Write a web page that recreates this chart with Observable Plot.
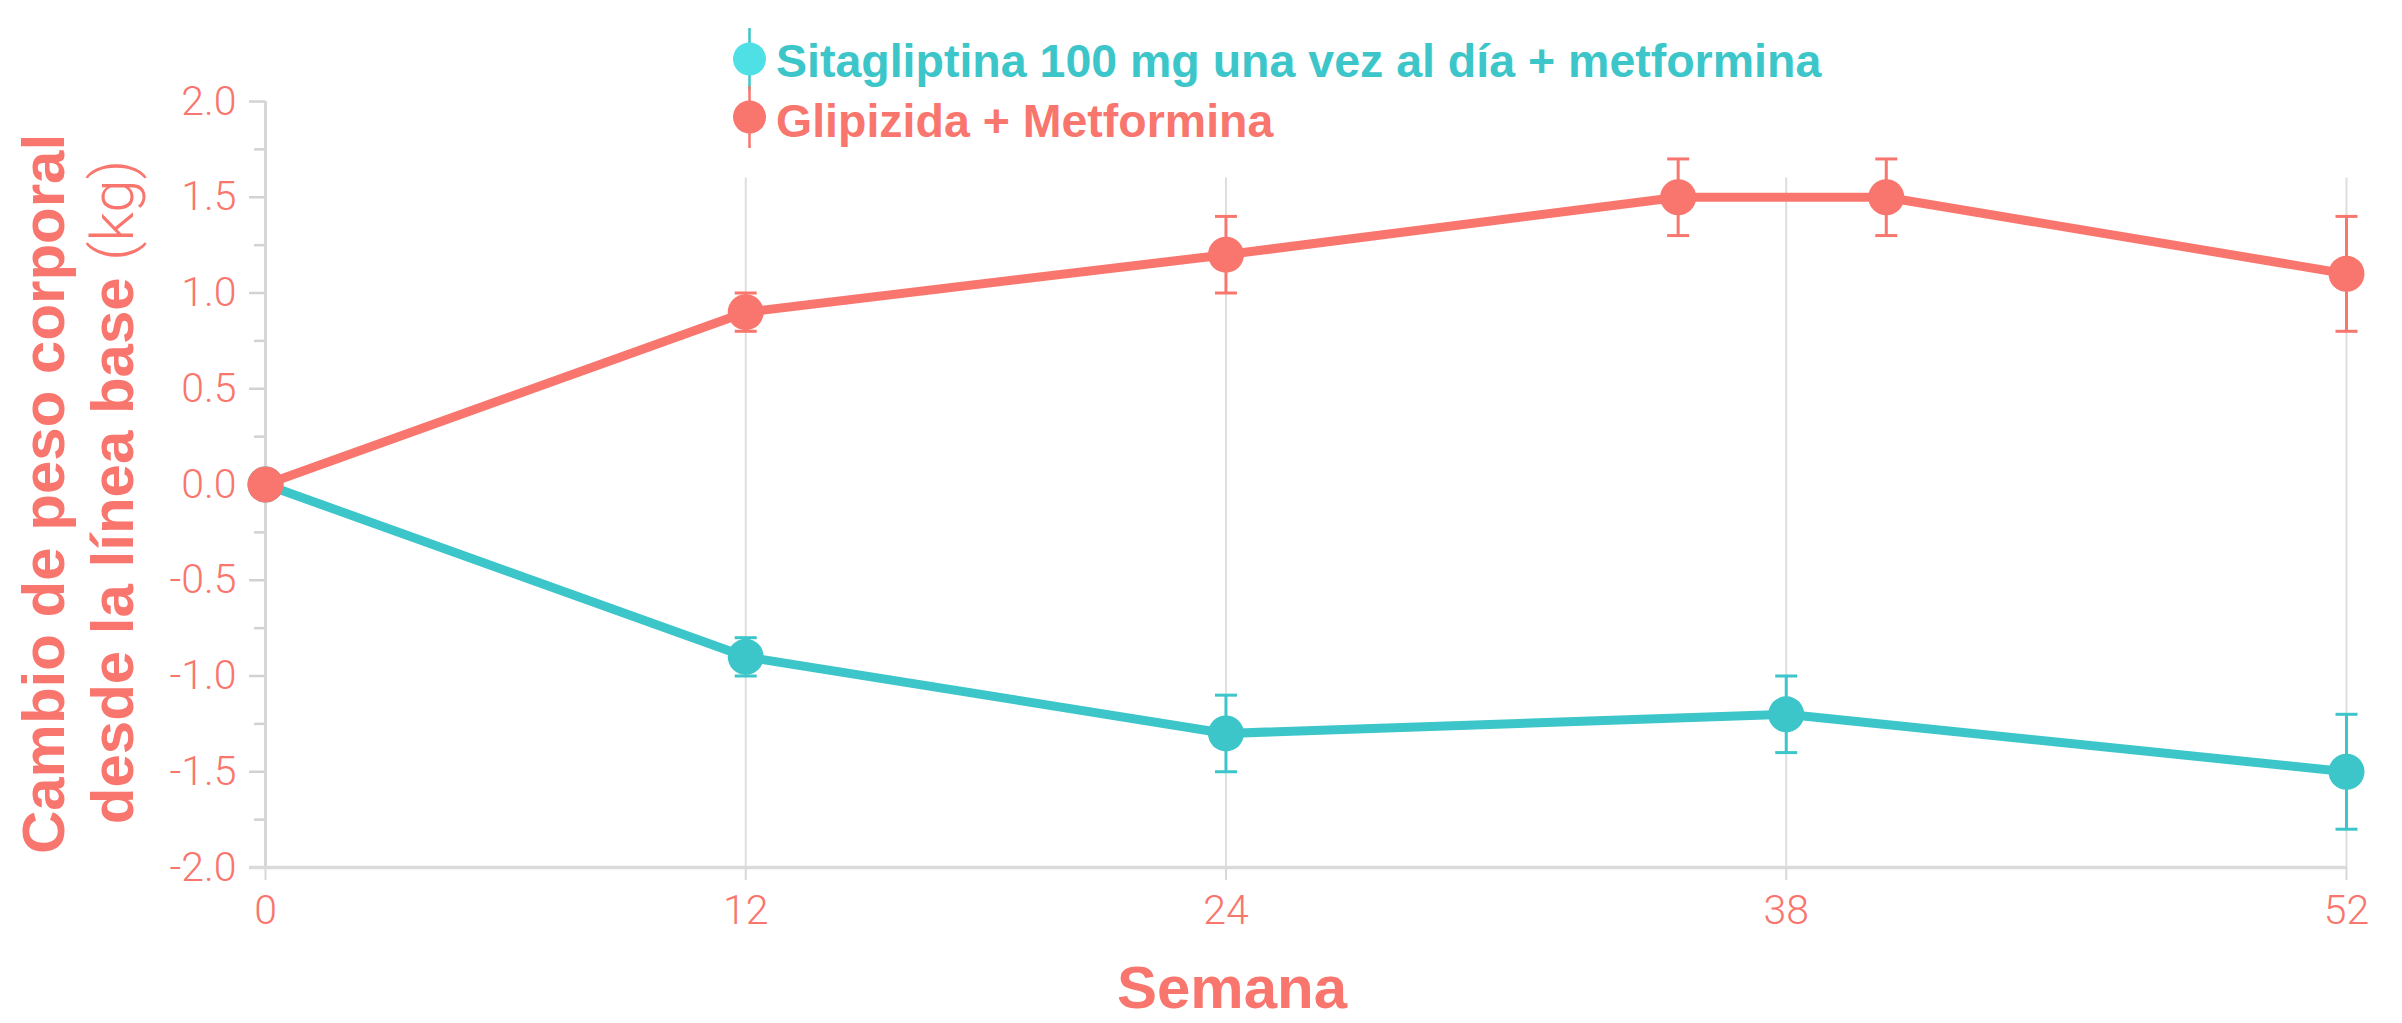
<!DOCTYPE html>
<html><head><meta charset="utf-8">
<script src="https://cdn.jsdelivr.net/npm/d3@7"></script>
<script src="https://cdn.jsdelivr.net/npm/@observablehq/plot@0.6"></script>
<style>
html,body{margin:0;padding:0;background:#fff;}
#wrap{position:relative;width:2402px;height:1023px;overflow:hidden;}
</style></head><body><div id="wrap"></div>
<script>
// ---- data ----
const seriesNames = ["Sitagliptina 100 mg una vez al día + metformina", "Glipizida + Metformina"];
const seriesColors = ["#3CC6C9", "#F8766D"];
const legendSwatchColors = ["#4FE0E6", "#F8766D"];
const sitaWeeks = [0, 12, 24, 38, 52];
const sitaChange = [0, -0.9, -1.3, -1.2, -1.5];
const sitaErr = [0, 0.1, 0.2, 0.2, 0.3];
const glipWeeks = [0, 12, 24, 35.3, 40.5, 52];
const glipChange = [0, 0.9, 1.2, 1.5, 1.5, 1.1];
const glipErr = [0, 0.1, 0.2, 0.2, 0.2, 0.3];
const xTicks = [0, 12, 24, 38, 52];
const yTicks = [-2, -1.5, -1, -0.5, 0, 0.5, 1, 1.5, 2];
const yMinorTicks = [-1.75, -1.25, -0.75, -0.25, 0.25, 0.75, 1.25, 1.75];
const gridTop = 1.6;
const yTitleBold = ["Cambio de peso corporal", "desde la línea base "];
const yTitleUnit = "(kg)";
const xTitle = "Semana";

// ---- build table ----
function build(weeks, vals, errs, s) {
  return weeks.map((w, i) => ({series: s, week: w, value: vals[i], lo: vals[i] - errs[i], hi: vals[i] + errs[i], err: errs[i]}));
}
const sita = build(sitaWeeks, sitaChange, sitaErr, seriesNames[0]);
const glip = build(glipWeeks, glipChange, glipErr, seriesNames[1]);
const withErr = d => d.filter(r => r.err > 0);

const capSymbol = {draw(ctx) { ctx.moveTo(-11, 0); ctx.lineTo(11, 0); }};
const tickFont = "Roboto, 'Liberation Sans', sans-serif";
const titleFont = "'Liberation Sans', Arial, Helvetica, sans-serif";
const red = seriesColors[1];

function seriesMarks(data, color) {
  return [
    Plot.ruleX(withErr(data), {x: "week", y1: "lo", y2: "hi", stroke: color, strokeWidth: 3}),
    Plot.dot(withErr(data), {x: "week", y: "hi", symbol: capSymbol, stroke: color, strokeWidth: 3, fill: "none", r: 6}),
    Plot.dot(withErr(data), {x: "week", y: "lo", symbol: capSymbol, stroke: color, strokeWidth: 3, fill: "none", r: 6}),
    Plot.line(data, {x: "week", y: "value", stroke: color, strokeWidth: 9, strokeLinejoin: "round"}),
    Plot.dot(data, {x: "week", y: "value", r: 18, fill: color, stroke: "none"})
  ];
}

const chart = Plot.plot({
  width: 2402, height: 1023,
  marginLeft: 265, marginRight: 56, marginTop: 101, marginBottom: 156,
  style: {background: "white", fontFamily: tickFont, overflow: "visible"},
  x: {domain: [0, 52]},
  y: {domain: [-2, 2]},
  marks: [
    Plot.ruleX(xTicks.slice(1), {y1: -2, y2: gridTop, stroke: "#dedede", strokeWidth: 2}),
    Plot.axisY(yTicks, {tickSize: 16, tickPadding: 13, tickFormat: d => d.toFixed(1), stroke: "#d2d2d2", strokeWidth: 2.5, fill: red, fontSize: 41, fontWeight: 300, label: null}),
    Plot.axisY(yMinorTicks, {tickSize: 11, tickFormat: () => "", stroke: "#d2d2d2", strokeWidth: 2.5, label: null}),
    Plot.axisX(xTicks, {tickSize: 13, tickPadding: 14, stroke: "#d8d8d8", strokeWidth: 2, fill: red, fontSize: 41, fontWeight: 300, label: null}),
    Plot.ruleX([0], {y1: -2, y2: 2, stroke: "#d6d6d6", strokeWidth: 3}),
    Plot.ruleY([-2], {x1: -0.4, x2: 52, stroke: "#dadada", strokeWidth: 3.5}),
    ...seriesMarks(sita, seriesColors[0]),
    ...seriesMarks(glip, seriesColors[1])
  ]
});

document.getElementById("wrap").appendChild(chart);
const svg = d3.select(chart);

// y title (two lines, rotated)
const yt = svg.append("g").attr("fill", red).attr("font-family", titleFont).attr("font-size", 60).attr("font-weight", "bold").attr("text-anchor", "middle");
yt.append("text").attr("transform", "translate(64,494) rotate(-90)").text(yTitleBold[0]);
const l2 = yt.append("text").attr("transform", "translate(133,492) rotate(-90)");
l2.append("tspan").text(yTitleBold[1]);
l2.append("tspan").attr("font-weight", 300).attr("font-family", tickFont).text(yTitleUnit);

// x title
svg.append("text").attr("x", 1232).attr("y", 1008).attr("text-anchor", "middle").attr("fill", red)
  .attr("font-family", titleFont).attr("font-size", 60).attr("font-weight", "bold").text(xTitle);

// legend
const lg = svg.append("g").attr("font-family", titleFont).attr("font-size", 46.5).attr("font-weight", "bold").attr("text-anchor", "start");
seriesNames.forEach((name, i) => {
  const cy = 59 + i * 58;
  lg.append("line").attr("x1", 749.5).attr("x2", 749.5).attr("y1", cy - 31).attr("y2", cy + 31).attr("stroke", seriesColors[i]).attr("stroke-width", 2.5);
  lg.append("circle").attr("cx", 749.5).attr("cy", cy).attr("r", 16.5).attr("fill", legendSwatchColors[i]);
  lg.append("text").attr("x", 776).attr("y", 77 + i * 60).attr("fill", seriesColors[i]).text(name);
});
</script></body></html>
